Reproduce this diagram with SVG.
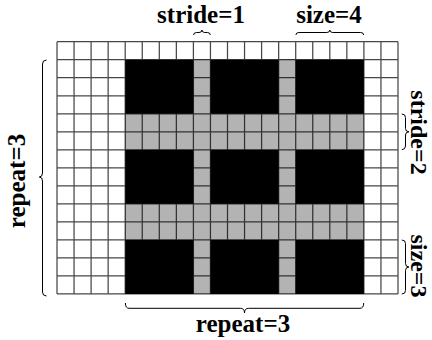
<svg xmlns="http://www.w3.org/2000/svg" width="432" height="340" viewBox="0 0 432 340">
<style>
.lbl{font-family:"Liberation Serif","Times New Roman",serif;font-weight:bold;font-size:25px;fill:#000;text-anchor:middle}
.side{font-size:24px}
.brace{fill:none;stroke:#000;stroke-width:1}
.grid{fill:none;stroke:#000;stroke-opacity:0.72;stroke-width:1.25}
.blk{fill:#000}
.gry{fill:#b3b3b3}
</style>
<rect width="432" height="340" fill="#fff"/>
<g id="blocks">
<rect class="blk" x="125.2" y="59.72" width="238.7" height="234.26"/>
<rect class="gry" x="193.4" y="59.72" width="17.05" height="234.26"/>
<rect class="gry" x="278.65" y="59.72" width="17.05" height="234.26"/>
<rect class="gry" x="125.2" y="113.78" width="238.7" height="36.04"/>
<rect class="gry" x="125.2" y="203.88" width="238.7" height="36.04"/>
</g>
<g id="grid">
<path class="grid" d="M57,41.7V293.98 M74.05,41.7V293.98 M91.1,41.7V293.98 M108.15,41.7V293.98 M125.2,41.7V293.98 M142.25,41.7V293.98 M159.3,41.7V293.98 M176.35,41.7V293.98 M193.4,41.7V293.98 M210.45,41.7V293.98 M227.5,41.7V293.98 M244.55,41.7V293.98 M261.6,41.7V293.98 M278.65,41.7V293.98 M295.7,41.7V293.98 M312.75,41.7V293.98 M329.8,41.7V293.98 M346.85,41.7V293.98 M363.9,41.7V293.98 M380.95,41.7V293.98 M398,41.7V293.98
M57,41.7H398 M57,59.72H398 M57,77.74H398 M57,95.76H398 M57,113.78H398 M57,131.8H398 M57,149.82H398 M57,167.84H398 M57,185.86H398 M57,203.88H398 M57,221.9H398 M57,239.92H398 M57,257.94H398 M57,275.96H398 M57,293.98H398"/>
</g>
<g id="braces">
<path class="brace" d="M193.6,35 Q193.6,32.5 196.6,32.5 L199,32.5 Q201.9,32.5 201.9,30 Q201.9,32.5 204.8,32.5 L207.3,32.5 Q210.3,32.5 210.3,35"/>
<path class="brace" d="M295.9,35 Q295.9,32.5 298.9,32.5 L326.8,32.5 Q329.8,32.5 329.8,30 Q329.8,32.5 332.8,32.5 L360.7,32.5 Q363.7,32.5 363.7,35"/>
<path class="brace" d="M125.4,303 Q125.4,308.3 129,308.3 L240.5,308.3 Q244.5,308.3 244.5,313 Q244.5,308.3 248.5,308.3 L360,308.3 Q363.7,308.3 363.7,303"/>
<path class="brace" d="M46.5,60 Q42.5,60 42.5,64 L42.5,173 Q42.5,177 39.3,177 Q42.5,177 42.5,181 L42.5,292 Q42.5,296 46.5,296"/>
<path class="brace" d="M401.8,114 Q405.5,114 405.5,117.5 L405.5,128.5 Q405.5,131.8 409,131.8 Q405.5,131.8 405.5,135 L405.5,146 Q405.5,149.6 401.8,149.6"/>
<path class="brace" d="M401.8,240 Q405.5,240 405.5,243.5 L405.5,263.5 Q405.5,267 409,267 Q405.5,267 405.5,270.5 L405.5,290.5 Q405.5,294 401.8,294"/>
</g>
<g id="labels">
<text class="lbl" x="201" y="23">stride=1</text>
<text class="lbl" x="329" y="23">size=4</text>
<text class="lbl" x="243" y="332">repeat=3</text>
<text class="lbl" transform="translate(25,181) rotate(-90)">repeat=3</text>
<text class="lbl side" transform="translate(410.5,132.5) rotate(90)">stride=2</text>
<text class="lbl side" transform="translate(410.5,266) rotate(90)">size=3</text>
</g>
</svg>
